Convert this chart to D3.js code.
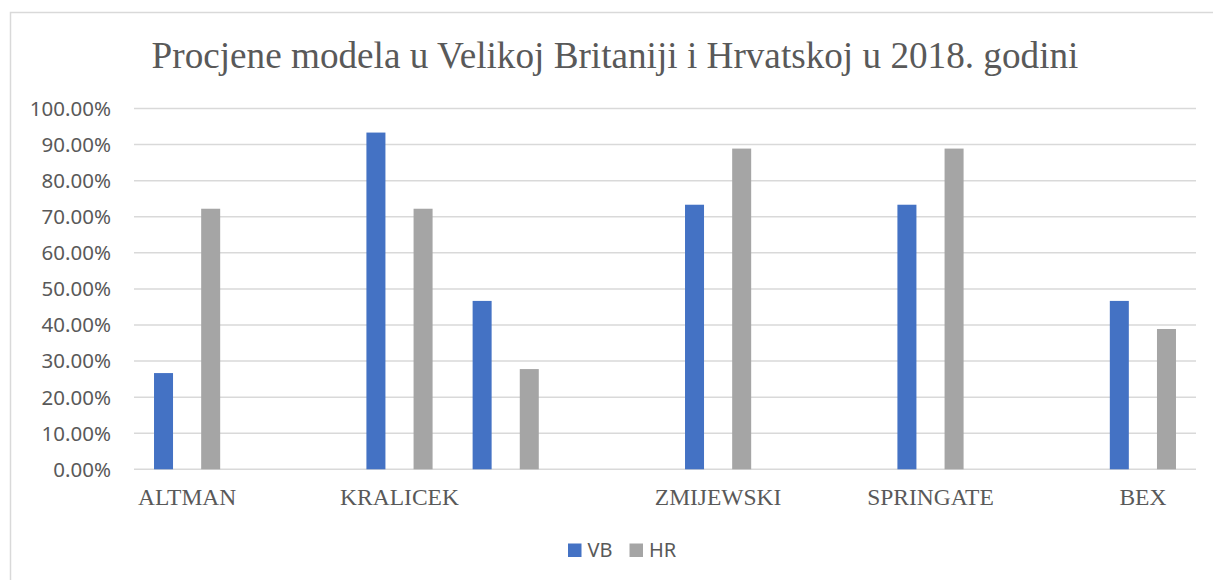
<!DOCTYPE html>
<html>
<head>
<meta charset="utf-8">
<script src="https://cdn.jsdelivr.net/npm/d3@7"></script>
<style>
  body { margin: 0; background: #fff; }
  svg { display: block; }
</style>
</head>
<body>
<script>
// categories (blank slots are empty model names in the source table)
const categories = ["ALTMAN", "", "KRALICEK", "", "", "ZMIJEWSKI", "", "SPRINGATE", "", "BEX"];
const seriesNames = ["VB", "HR"];
const vbValues = [0.2667, null, 0.9333, 0.4667, null, 0.7333, null, 0.7333, null, 0.4667];
const hrValues = [0.7222, null, 0.7222, 0.2778, null, 0.8889, null, 0.8889, null, 0.3889];
const yTicks = [0, 0.1, 0.2, 0.3, 0.4, 0.5, 0.6, 0.7, 0.8, 0.9, 1.0];
const colors = ["#4472C4", "#A5A5A5"];

const width = 1213, height = 580;
const margin = { left: 134, right: 17, top: 108.5, bottom: 110.7 };

const svg = d3.select("body").append("svg")
    .attr("width", width)
    .attr("height", height);

// chart frame
svg.append("rect")
    .attr("x", 10.5).attr("y", 12.5)
    .attr("width", width + 10).attr("height", height)
    .attr("fill", "#fff")
    .attr("stroke", "#D9D9D9")
    .attr("stroke-width", 1.5);

svg.append("text")
    .attr("x", 615).attr("y", 68)
    .attr("text-anchor", "middle")
    .attr("font-family", "Liberation Serif, Times New Roman, serif")
    .attr("font-size", 37.2)
    .attr("fill", "#595959")
    .text("Procjene modela u Velikoj Britaniji i Hrvatskoj u 2018. godini");

const x = d3.scaleBand()
    .domain(d3.range(categories.length))
    .range([margin.left, width - margin.right]);

const y = d3.scaleLinear()
    .domain([0, 1])
    .range([height - margin.bottom, margin.top]);

// gridlines
svg.append("g")
    .selectAll("line")
    .data(yTicks)
    .enter().append("line")
    .attr("x1", margin.left)
    .attr("x2", width - margin.right)
    .attr("y1", d => y(d))
    .attr("y2", d => y(d))
    .attr("stroke", "#D9D9D9")
    .attr("stroke-width", 1.5);

// y labels
const fmt = d3.format(".2%");
svg.append("g")
    .selectAll("text")
    .data(yTicks)
    .enter().append("text")
    .attr("x", 111)
    .attr("y", d => y(d))
    .attr("dy", "0.36em")
    .attr("text-anchor", "end")
    .attr("font-family", "Noto Sans, sans-serif")
    .attr("font-size", 20.5)
    .attr("fill", "#595959")
    .text(d => fmt(d));

// bars
const bw = x.bandwidth();
const barW = bw * 0.179;
const offsets = [-0.222 * bw, 0.222 * bw];
const series = [vbValues, hrValues];

series.forEach(function (vals, s) {
    svg.append("g")
        .selectAll("rect")
        .data(vals.map((v, i) => ({ i: i, v: v })).filter(d => d.v != null))
        .enter().append("rect")
        .attr("x", d => x(d.i) + bw / 2 + offsets[s] - barW / 2)
        .attr("width", barW)
        .attr("y", d => y(d.v))
        .attr("height", d => y(0) - y(d.v))
        .attr("fill", colors[s]);
});

// category labels
svg.append("g")
    .selectAll("text")
    .data(categories.map((c, i) => ({ i: i, c: c })).filter(d => d.c))
    .enter().append("text")
    .attr("x", d => x(d.i) + bw / 2)
    .attr("y", 505)
    .attr("text-anchor", "middle")
    .attr("font-family", "Liberation Serif, Times New Roman, serif")
    .attr("font-size", 23.5)
    .attr("fill", "#595959")
    .text(d => d.c);

// legend
const legend = svg.append("g");
const legX = [568, 629.5];
seriesNames.forEach(function (name, s) {
    legend.append("rect")
        .attr("x", legX[s]).attr("y", 543.5)
        .attr("width", 13.5).attr("height", 13.5)
        .attr("fill", colors[s]);
    legend.append("text")
        .attr("x", legX[s] + 19.5).attr("y", 557)
        .attr("font-family", "Noto Sans, sans-serif")
        .attr("font-size", 20)
        .attr("fill", "#595959")
        .text(name);
});
</script>
</body>
</html>
